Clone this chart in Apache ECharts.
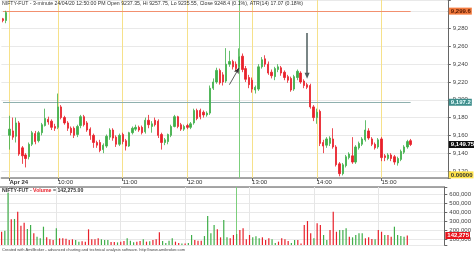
<!DOCTYPE html>
<html>
<head>
<meta charset="utf-8">
<script src="https://cdn.jsdelivr.net/npm/echarts@6/dist/echarts.min.js"></script>
<style>
  html, body { margin: 0; padding: 0; background: #fff; }
  #chart { width: 474px; height: 253px; }
</style>
</head>
<body>
<div id="chart"></div>
<script>
// two bars of the previous session, then 24 Apr 09:15 .. 15:27 (3-minute bars)
var opens = [9291, 9289,
  9160, 9165, 9159, 9174, 9146, 9138, 9136, 9150, 9162, 9154, 9163, 9171, 9178, 9176, 9170,
  9169, 9192, 9180, 9174, 9168, 9168, 9161, 9171, 9181, 9174, 9167, 9160, 9152, 9152, 9144,
  9148, 9158, 9166, 9158, 9150, 9161, 9154, 9148, 9163, 9167, 9169, 9169, 9164, 9177, 9170,
  9177, 9176, 9161, 9152, 9153, 9160, 9170, 9181, 9172, 9167, 9171, 9169, 9174, 9188, 9188,
  9186, 9183, 9185, 9213, 9220, 9233, 9228, 9221, 9240, 9243, 9240, 9237.35, 9249, 9235, 9225,
  9222, 9211, 9212, 9237, 9246, 9240, 9231, 9226, 9234, 9236, 9231, 9226, 9224, 9212, 9225,
  9230, 9221, 9217, 9216, 9192, 9180, 9187, 9152, 9149, 9151, 9156, 9147, 9128, 9117, 9126,
  9135, 9137, 9130, 9146, 9150, 9155, 9165, 9156, 9150, 9147, 9156, 9137, 9134, 9138, 9136,
  9129, 9133, 9141, 9147, 9154];
var closes = [9289, 9298,
  9167, 9158, 9174, 9139, 9137, 9134, 9150, 9163, 9153, 9163, 9172, 9179, 9175, 9169, 9168,
  9192, 9180, 9174, 9168, 9163, 9160, 9170, 9181, 9172, 9166, 9160, 9152, 9149, 9143, 9149,
  9159, 9166, 9157, 9150, 9160, 9153, 9148, 9163, 9168, 9169, 9166, 9163, 9177, 9172, 9173,
  9172, 9160, 9152, 9155, 9161, 9170, 9181, 9170, 9167, 9170, 9169, 9173, 9188, 9179, 9181,
  9183, 9185, 9213, 9220, 9233, 9219, 9220, 9240, 9243, 9237, 9235, 9248.4, 9234, 9223, 9217,
  9212, 9214, 9237, 9245, 9240, 9230, 9227, 9235, 9237, 9230, 9225, 9222, 9211, 9226, 9232,
  9220, 9216, 9214, 9192, 9180, 9186, 9151, 9148, 9156, 9157, 9147, 9127, 9117, 9127, 9136,
  9139, 9130, 9147, 9151, 9156, 9166, 9157, 9150, 9146, 9155, 9135, 9135, 9138, 9134, 9130,
  9134, 9142, 9147, 9153, 9149.75];
var lows = [9287, 9286,
  9144, 9155, 9152, 9137, 9128, 9124, 9133, 9148, 9150, 9152, 9160, 9170, 9172, 9166, 9165,
  9167, 9178, 9172, 9165, 9160, 9157, 9158, 9168, 9170, 9164, 9155, 9146, 9146, 9141, 9140,
  9146, 9155, 9154, 9147, 9148, 9150, 9143, 9147, 9161, 9165, 9164, 9161, 9162, 9168, 9163,
  9170, 9157, 9144, 9149, 9150, 9158, 9169, 9168, 9165, 9165, 9167, 9167, 9172, 9177, 9178,
  9180, 9181, 9183, 9211, 9218, 9217, 9216, 9219, 9237, 9234, 9232, 9235.55, 9231, 9220, 9213,
  9208, 9207, 9210, 9235, 9237, 9228, 9224, 9222, 9231, 9227, 9222, 9219, 9209, 9210, 9222,
  9218, 9213, 9212, 9190, 9176, 9173, 9148, 9140, 9146, 9148, 9145, 9125, 9114, 9115, 9124,
  9133, 9128, 9128, 9144, 9148, 9153, 9155, 9148, 9144, 9145, 9131, 9131, 9132, 9131, 9127,
  9126, 9131, 9139, 9145, 9148];
var highs = [9292, 9300,
  9182, 9180, 9180, 9176, 9148, 9140, 9152, 9165, 9165, 9165, 9174, 9190, 9181, 9178, 9173,
  9207, 9194, 9182, 9176, 9170, 9170, 9172, 9183, 9183, 9176, 9169, 9162, 9154, 9155, 9151,
  9161, 9168, 9168, 9160, 9162, 9163, 9156, 9164, 9170, 9172, 9171, 9171, 9180, 9183, 9176,
  9180, 9178, 9163, 9157, 9162, 9172, 9183, 9182, 9174, 9172, 9173, 9175, 9190, 9190, 9190,
  9188, 9187, 9216, 9224, 9236, 9235, 9231, 9258, 9255, 9245, 9243, 9257.75, 9252, 9238, 9228,
  9225, 9216, 9240, 9248, 9250, 9243, 9234, 9237, 9240, 9238, 9233, 9228, 9226, 9228, 9234,
  9232, 9223, 9219, 9218, 9194, 9190, 9189, 9155, 9158, 9159, 9168, 9149, 9130, 9129, 9138,
  9141, 9158, 9149, 9153, 9158, 9177, 9168, 9158, 9152, 9157, 9158, 9139, 9140, 9140, 9138,
  9136, 9144, 9149, 9155, 9156];
var volumes = [184000, 196000,
  618000, 322000, 326000, 407000, 251000, 285000, 214000, 259000, 167000, 129000, 111000, 240000,
  122000, 100000, 92000, 222000, 111000, 111000, 105000, 92000, 100000, 92000, 74000, 78000,
  74000, 211000, 100000, 100000, 111000, 100000, 92000, 92000, 70000, 70000, 66000, 74000,
  81000, 111000, 85000, 66000, 74000, 81000, 100000, 74000, 78000, 92000, 100000, 178000,
  81000, 59000, 85000, 111000, 74000, 59000, 52000, 52000, 60000, 148000, 92000, 85000,
  85000, 136000, 359000, 167000, 259000, 211000, 122000, 314000, 122000, 111000, 148000, 160000,
  203000, 222000, 100000, 148000, 122000, 133000, 111000, 122000, 92000, 111000, 100000, 59000,
  74000, 111000, 100000, 81000, 59000, 92000, 92000, 52000, 259000, 303000, 167000, 111000,
  278000, 259000, 148000, 92000, 203000, 407000, 184000, 203000, 203000, 222000, 129000, 122000,
  148000, 167000, 167000, 111000, 122000, 103000, 100000, 203000, 184000, 148000, 148000, 129000,
  240000, 148000, 137000, 129000, 142275];

var prevDayTimes = ["15:24", "15:27"];
var hourTimes = ["09:15", "10:00", "11:00", "12:00", "13:00", "14:00", "15:00"];
var hourTexts = ["Apr 24", "10:00", "11:00", "12:00", "13:00", "14:00", "15:00"];
var selectedTime = "12:48";

var refHigh = 9299.6;
var refMid = 9197.2;
var lastClose = 9149.75;
var indicatorValue = "0.00000";
var lastVolume = 142275;

var titleText = "NIFTY-FUT - 3-minute 24/04/20 12:50:00 PM Open 9237.35, Hi 9257.75, Lo 9235.55, Close 9248.4 (0.1%), ATR(14) 17.07 (0.18%)";
var footerText = "Created with AmiBroker - advanced charting and technical analysis software. http://www.amibroker.com";

var UP = "#3fae49";
var DOWN = "#e8202a";
var FONT = "Liberation Sans";

function pad(n) { return (n < 10 ? "0" : "") + n; }

// time categories, padded with empty bars after the close like AmiBroker does
var categories = prevDayTimes.slice();
for (var m = 9 * 60 + 15; categories.length < 138; m += 3) {
  categories.push(pad(Math.floor(m / 60)) + ":" + pad(m % 60));
}

var candleData = [];
for (var i = 0; i < opens.length; i++) {
  candleData.push([opens[i], closes[i], lows[i], highs[i]]);
}
var lastIndex = opens.length - 1;
var hourIndex = hourTimes.map(function (t) { return categories.indexOf(t, 2); });
var selIndex = categories.indexOf(selectedTime, 2);

function commas(v) {
  return String(v).replace(/\B(?=(\d{3})+(?!\d))/g, ",");
}

function boxLabel(text, bg, fg) {
  return {
    show: true, position: "end", distance: 1, formatter: text,
    backgroundColor: bg, color: fg, padding: [1, 1, 0, 2],
    fontSize: 6, fontFamily: FONT, fontWeight: "bold"
  };
}
var hidden = { color: "rgba(0,0,0,0)", width: 1, type: "solid" };

function solid(color, w) {
  return { color: color, width: w || 1, type: "solid" };
}

// plot width picked so the selected-bar line lands on a whole pixel
var PLOT_W = 447.8;

var chart = echarts.init(document.getElementById("chart"), null, { renderer: "canvas" });

chart.setOption({
  animation: false,
  backgroundColor: "#fff",
  title: [
    { text: titleText, left: 2, top: 1, padding: 0, textStyle: { fontSize: 5.2, fontWeight: "normal", color: "#333", fontFamily: FONT } },
    {
      text: "{a|NIFTY-FUT - }{b|Volume}{a| = 142,275.00}", left: 2, top: 188, padding: 0,
      textStyle: { rich: {
        a: { fontSize: 5.2, color: "#333", fontFamily: FONT },
        b: { fontSize: 5.2, color: "#e8202a", fontFamily: FONT }
      } }
    },
    { text: footerText, left: 2, top: 248, padding: 0, textStyle: { fontSize: 4, fontWeight: "normal", color: "#444", fontFamily: FONT } }
  ],
  grid: [
    { left: 0, top: 0, width: PLOT_W, height: 178 },
    { left: 0, top: 187, width: PLOT_W, height: 58 }
  ],
  xAxis: [
    {
      type: "category", gridIndex: 0, data: categories, boundaryGap: true,
      axisLine: { show: true, lineStyle: { color: "#8a8a8a", width: 1.5 } },
      axisTick: {
        show: true, alignWithLabel: true, length: 3, lineStyle: { color: "#666" },
        interval: function (idx) { return hourIndex.indexOf(idx) >= 0; }
      },
      axisLabel: {
        interval: 0, fontSize: 6, color: "#333", fontFamily: FONT, align: "left", margin: 1,
        formatter: function (v, idx) {
          var h = hourIndex.indexOf(idx);
          if (h < 0) return "";
          return h === 0 ? "{b|" + hourTexts[h] + "}" : hourTexts[h];
        },
        rich: { b: { fontSize: 6, fontWeight: "bold", color: "#333", fontFamily: FONT } }
      },
      splitLine: { show: false }
    },
    {
      type: "category", gridIndex: 1, data: categories, boundaryGap: true, position: "top",
      axisLine: { show: true, lineStyle: { color: "#8a8a8a", width: 1.5 } },
      axisTick: { show: false }, axisLabel: { show: false }, splitLine: { show: false }
    }
  ],
  yAxis: [
    {
      type: "value", gridIndex: 0, position: "right", min: 9112.1, max: 9312.1, splitNumber: 10,
      axisLine: { show: true, lineStyle: { color: "#666" } },
      axisTick: { show: true, length: 3, lineStyle: { color: "#666" } },
      axisLabel: {
        fontSize: 6, color: "#444", fontFamily: FONT, margin: 5,
        formatter: function (v) { return Math.abs(v % 20) < 0.01 ? commas(v) : ""; }
      },
      splitLine: { show: true, lineStyle: { color: "#e9e9e9" } }
    },
    {
      type: "value", gridIndex: 1, position: "right", min: 36700, max: 681000, splitNumber: 6,
      axisLine: { show: true, lineStyle: { color: "#666" } },
      axisTick: { show: true, length: 3, lineStyle: { color: "#666" } },
      axisLabel: {
        fontSize: 6, color: "#444", fontFamily: FONT, margin: 5,
        formatter: function (v) { return v % 100000 === 0 ? commas(v) : ""; }
      },
      splitLine: { show: true, lineStyle: { color: "#e9e9e9" } }
    }
  ],
  series: [
    {
      type: "candlestick", xAxisIndex: 0, yAxisIndex: 0, data: candleData, barWidth: 1.8, z: 3,
      itemStyle: { color: UP, color0: DOWN, borderColor: UP, borderColor0: DOWN, borderWidth: 0.8 },
      markLine: {
        silent: true, symbol: "none", z: 1, animation: false,
        label: { show: false },
        data: hourIndex.map(function (x) {
          return { xAxis: x, lineStyle: solid("#f6e18a") };
        }).concat([
          { xAxis: selIndex, lineStyle: solid("#7ccf7c") },
          [{ coord: [0, refHigh], lineStyle: solid("#f2906f") }, { coord: [lastIndex, refHigh] }],
          [{ coord: [0, refMid], lineStyle: solid("#8fb0ae") }, { coord: [lastIndex, refMid] }]
        ])
      }
    },
    {
      type: "line", xAxisIndex: 0, yAxisIndex: 0, data: [], z: 5,
      markLine: {
        silent: true, z: 6, animation: false, symbol: "none",
        data: [
          [{ coord: [selIndex + 21, 9275], symbol: "none", lineStyle: solid("#4d5c5c", 1.5) },
           { coord: [selIndex + 21, 9227], symbol: "triangle", symbolSize: [5, 6], symbolRotate: 180 }],
          [{ coord: [selIndex - 3, 9217], symbol: "none", lineStyle: solid("#333", 0.8) },
           { coord: [selIndex, 9236], symbol: "arrow", symbolSize: [4, 6] }],
          { yAxis: refHigh, lineStyle: hidden, label: boxLabel("9,299.6", "#f27a3e", "#5a1a00") },
          { yAxis: refMid, lineStyle: hidden, label: boxLabel("9,197.2", "#3f8e8c", "#e8ffff") },
          { yAxis: lastClose, lineStyle: hidden, label: boxLabel(commas(lastClose), "#111", "#fff") },
          { yAxis: 9115.6, lineStyle: hidden, label: boxLabel(indicatorValue, "#ffe34a", "#333") }
        ]
      }
    },
    {
      type: "bar", xAxisIndex: 1, yAxisIndex: 1, data: volumes, barWidth: 1.2, z: 3,
      itemStyle: {
        color: function (p) { return closes[p.dataIndex] >= opens[p.dataIndex] ? UP : DOWN; }
      },
      markLine: {
        silent: true, symbol: "none", z: 1, animation: false,
        data: hourIndex.map(function (x) {
          return { xAxis: x, lineStyle: solid("#e6e6e6"), label: { show: false } };
        }).concat([
          { xAxis: selIndex, lineStyle: solid("#7ccf7c"), label: { show: false } },
          { yAxis: lastVolume, lineStyle: hidden, label: boxLabel("142,275", "#e8141c", "#fff") }
        ])
      }
    }
  ]
});
</script>
</body>
</html>
